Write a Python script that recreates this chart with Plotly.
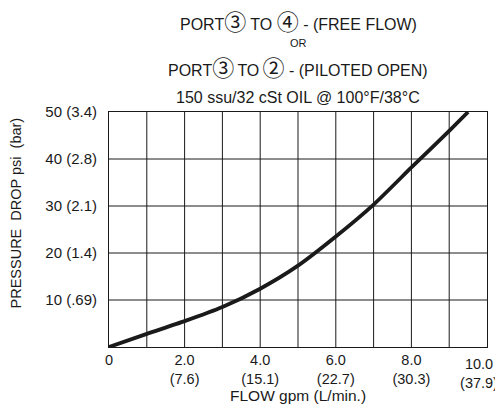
import plotly.graph_objects as go

flow_gpm = [0, 1, 2, 3, 4, 5, 6, 7, 8, 9, 9.5]
pressure_psi = [0, 2.8, 5.5, 8.5, 12.4, 17.3, 23.5, 30.3, 38.2, 46.0, 50]

x_tickvals = [0, 2, 4, 6, 8]
x_ticktext = ["0", "2.0<br>(7.6)", "4.0<br>(15.1)", "6.0<br>(22.7)", "8.0<br>(30.3)"]
x_last_tickval = [10]
x_last_ticktext = ["10.0<br>(37.9)"]
y_tickvals = [10, 20, 30, 40, 50]
y_ticktext = ["10 (.69)", "20 (1.4)", "30 (2.1)", "40 (2.8)", "50 (3.4)"]

FONT = "Liberation Sans, Arial, sans-serif"
FS = 15
INK = "#1a1a1a"

# page is offset by the 8px body margin: figure coords = page coords - 8
W, H = 495, 405
ML, MR, MT, MB = 101, 16, 104, 66
PW, PH = W - ML - MR, H - MT - MB

fig = go.Figure()
fig.add_trace(go.Scatter(x=flow_gpm, y=pressure_psi, mode="lines",
                         line=dict(color=INK, width=3.8, shape="spline", smoothing=0.6),
                         showlegend=False, hoverinfo="skip", cliponaxis=False))
# carrier for the overlaid axis that holds the last (shifted) tick label
fig.add_trace(go.Scatter(x=[10], y=[0], xaxis="x2", mode="markers",
                         marker=dict(opacity=0, size=1), showlegend=False, hoverinfo="skip"))

xcommon = dict(range=[0, 10], showgrid=False, zeroline=False, automargin=False,
               tickfont=dict(size=14.5), ticklabeloverflow="allow",
               showline=True, linecolor=INK, linewidth=1)
fig.update_layout(
    width=W, height=H,
    margin=dict(l=ML, r=MR, t=MT, b=MB, autoexpand=False),
    paper_bgcolor="white", plot_bgcolor="white",
    font=dict(family=FONT, size=FS, color=INK),
    xaxis=dict(tickvals=x_tickvals, ticktext=x_ticktext, ticks="", ticklabelstandoff=0,
               mirror=True, **xcommon),
    xaxis2=dict(tickvals=x_last_tickval, ticktext=x_last_ticktext,
                ticks="outside", ticklen=4, tickcolor="rgba(0,0,0,0)",
                overlaying="x", anchor="y", side="bottom",
                ticklabelshift=-8, **xcommon),
    yaxis=dict(range=[0, 50], tickvals=y_tickvals, ticktext=y_ticktext,
               showgrid=False, zeroline=False, automargin=False,
               showline=True, linecolor=INK, linewidth=1, mirror=True,
               ticks="", tickfont=dict(size=FS), ticklabelstandoff=8),
)

# grid lines (every 1 gpm and every 10 psi)
for gx in range(1, 10):
    fig.add_shape(type="line", xref="x", yref="paper", x0=gx, x1=gx, y0=0, y1=1,
                  line=dict(color=INK, width=1), layer="below")
for gy in [10, 20, 30, 40]:
    fig.add_shape(type="line", xref="paper", yref="y", x0=0, x1=1, y0=gy, y1=gy,
                  line=dict(color=INK, width=1), layer="below")

def py(fig_y):
    return (H - MB - fig_y) / PH

def px(fig_x):
    return (fig_x - ML) / PW

big = "<span style='font-family:Noto Sans CJK JP;font-size:22px'>%s</span>"
titles = [
    ("PORT" + big % "③" + " TO " + big % "④" + " - (FREE FLOW)", 12, 16),
    ("OR", 35, 11),
    ("PORT" + big % "③" + "\u2009TO\u2009" + big % "②" + " - (PILOTED OPEN)", 58, 16),
    ("150 ssu/32 cSt OIL @ 100°F/38°C", 90, 16),
]
for text, ypix, fs in titles:
    fig.add_annotation(text=text, xref="x", yref="paper", x=5, y=py(ypix),
                       yanchor="middle", showarrow=False,
                       font=dict(size=fs, family=FONT, color=INK))

# axis titles
fig.add_annotation(text="FLOW gpm (L/min.)", xref="x", yref="paper", x=5, y=py(387),
                   yanchor="middle", showarrow=False, font=dict(size=15.5, family=FONT, color=INK))
fig.add_annotation(text="PRESSURE  DROP psi  (bar)", xref="paper", yref="paper",
                   x=px(7), y=py(205.5), textangle=-90, xanchor="center", yanchor="middle",
                   showarrow=False, font=dict(size=14.5, family=FONT, color=INK))

fig.write_html("out.html")
